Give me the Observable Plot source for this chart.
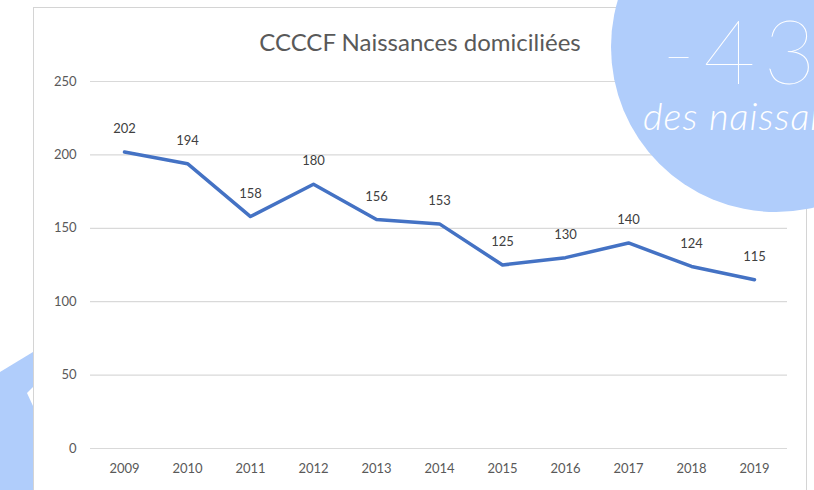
<!DOCTYPE html>
<html>
<head>
<meta charset="utf-8">
<script src="https://cdn.jsdelivr.net/npm/d3@7"></script>
<script src="https://cdn.jsdelivr.net/npm/@observablehq/plot@0.6"></script>
<style>
  html, body { margin: 0; padding: 0; background: #fff; overflow: hidden; }
  #wrap { position: relative; width: 814px; height: 490px; overflow: hidden; background: #fff; }
  #frame { position: absolute; left: 33px; top: 7px; width: 774px; height: 500px; border: 1px solid #d4d4d4; box-sizing: border-box; background: #fff; }
  #chart { position: absolute; left: 0; top: 0; }
  #title { position: absolute; left: 0; width: 840px; top: 27px; line-height: 30px; text-align: center; font-family: Lato, "Open Sans", sans-serif; font-size: 24px; color: #595959; }
  #blob { position: absolute; left: 0; top: 0; }
  #circle { position: absolute; left: 611px; top: -118px; width: 330px; height: 330px; border-radius: 50%; background: #b0cdfb; }
  #big { position: absolute; left: 662px; top: 9px; line-height: 80px; font-family: Lato, "Open Sans", sans-serif; font-weight: 200; font-size: 90px; color: #fff; letter-spacing: 8px; white-space: nowrap; }
  #small { position: absolute; left: 643px; top: 95px; line-height: 40px; font-family: Lato, "Open Sans", sans-serif; font-weight: 300; font-style: italic; font-size: 38px; color: #fff; letter-spacing: 1px; white-space: nowrap; }
</style>
</head>
<body>
<div id="wrap">
  <svg id="blob" width="40" height="490">
    <polygon points="0,372 33,352 33,490 0,490" fill="#b0cdfb"></polygon>
    <polygon points="27,393 33,387 33,406" fill="#fff"></polygon>
  </svg>
  <div id="frame"></div>
  <div id="chart"></div>
  <div id="title">CCCCF Naissances domiciliées</div>
  <div id="circle"></div>
  <div id="big">-43%</div>
  <div id="small">des naissances</div>
</div>
<script>
const years = ["2009","2010","2011","2012","2013","2014","2015","2016","2017","2018","2019"];
const births = [202, 194, 158, 180, 156, 153, 125, 130, 140, 124, 115];
const yTicks = [0, 50, 100, 150, 200, 250];

const data = years.map((y, i) => ({year: y, value: births[i]}));

const chart = Plot.plot({
  width: 814,
  height: 490,
  marginLeft: 90,
  marginRight: 27,
  marginTop: 81,
  marginBottom: 42,
  style: {background: "transparent", fontFamily: "Lato, 'Open Sans', sans-serif", fontSize: "13px", color: "#595959"},
  x: {type: "point", domain: years, padding: 0.5, label: null},
  y: {domain: [0, 250], ticks: yTicks, label: null},
  marks: [
    Plot.ruleY(yTicks, {stroke: "#d9d9d9", strokeWidth: 1.2}),
    Plot.axisY({ticks: yTicks, tickSize: 0, tickPadding: 14, label: null, fill: "#595959"}),
    Plot.axisX({tickSize: 0, tickPadding: 15, label: null, fill: "#595959"}),
    Plot.line(data, {x: "year", y: "value", stroke: "#4472c4", strokeWidth: 3.5, strokeLinejoin: "round"}),
    Plot.text(data, {x: "year", y: "value", text: d => String(d.value), dy: -23, fill: "#404040", fontSize: 13})
  ]
});
document.getElementById("chart").appendChild(chart);
</script>
</body>
</html>
